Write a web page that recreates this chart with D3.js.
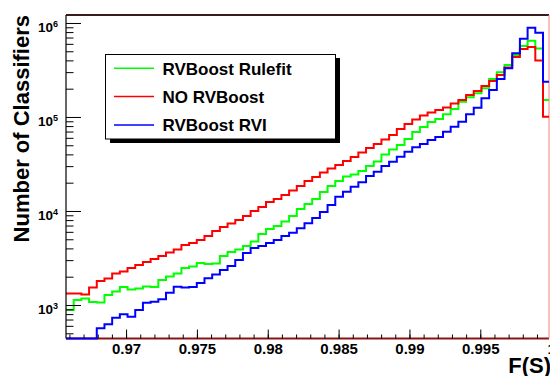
<!DOCTYPE html>
<html>
<head>
<meta charset="utf-8">
<script src="https://cdn.jsdelivr.net/npm/d3@7"></script>
<style>
  body { margin: 0; background: #fff; }
  text { font-family: "Liberation Sans", Arial, Helvetica, sans-serif; font-weight: bold; fill: #000; }
</style>
</head>
<body>
<svg id="hist" width="550" height="376"></svg>
<script>
// histogram binning (F(S) axis)
var binLow = 0.96576,
    binWidth = 0.000543;

// bin contents, one value per bin
var rulefit = [885, 1130, 1172, 1076, 1063, 1278, 1392, 1554, 1462, 1498,
  1573, 1554, 1845, 2010, 2163, 2475, 2568, 2798, 2731, 2764,
  3321, 3663, 3894, 4243, 4738, 5692, 6436, 6924, 7734, 8848,
  10500, 11870, 13420, 15930, 18450, 20850, 23280, 24450, 26650, 30110,
  33620, 39910, 45110, 50370, 58340, 69250, 78280, 88480, 95210, 106800,
  121700, 145500, 162000, 178700, 202000, 253700, 298900, 357500, 456600, 569200,
  648100, 535500, 151700];

var noBoost = [1325, 1325, 1293, 1536, 1800, 1914, 2163, 2272, 2475, 2665,
  2867, 3086, 3321, 3618, 3894, 4348, 4566, 4914, 5420, 6126,
  6757, 7362, 8024, 8848, 10000, 11030, 12460, 13420, 14800, 16530,
  18450, 20850, 23000, 25680, 28320, 30860, 34030, 37540, 41920, 46800,
  51620, 57630, 64360, 74530, 84240, 94060, 103750, 111670, 118700, 126200,
  139200, 151700, 171400, 189100, 213700, 241500, 279800, 336200, 434700, 529000,
  555500, 399100, 100700];

var rvi = [0, 0, 0, 0, 565, 623, 733, 796, 751, 885,
  1058, 1084, 1150, 1352, 1566, 1536, 1554, 1714, 1923, 2111,
  2357, 2599, 3011, 3574, 4041, 4243, 4566, 4914, 5420, 5877,
  6546, 7398, 8425, 9759, 11580, 14200, 16050, 18130, 20200, 23570,
  26190, 30110, 33460, 37820, 42750, 47610, 51620, 56930, 61270, 69760,
  78850, 89130, 106800, 125600, 158100, 193800, 253700, 329700, 476100, 680800,
  891300, 788500, 237400];

var xTicks = [0.97, 0.975, 0.98, 0.985, 0.99, 0.995, 1.0];
var xTickLabels = ["0.97", "0.975", "0.98", "0.985", "0.99", "0.995", "1"];
var yTicks = [1e3, 1e4, 1e5, 1e6];
var yTickExps = ["3", "4", "5", "6"];

var SERIES = [
  {name: "RVBoost Rulefit", color: "#00ff00", values: rulefit},
  {name: "NO RVBoost", color: "#ff0000", values: noBoost},
  {name: "RVBoost RVI", color: "#0000ff", values: rvi}
];

var svg = d3.select("#hist"),
    frame = {left: 66, right: 549, top: 15, bottom: 338.5},
    yMin = 440, yMax = 1.216e6;

var x = d3.scaleLinear()
    .domain([0.96576, 0.99985])
    .range([frame.left, frame.right]);
var y = d3.scaleLog()
    .domain([yMin, yMax])
    .range([frame.bottom, frame.top])
    .clamp(true);

svg.append("rect").attr("width", 550).attr("height", 376).attr("fill", "#fff");

// frame (drawn first so empty bins along the bottom stay visible)
svg.append("line").attr("x1", frame.left).attr("x2", frame.right).attr("y1", frame.top).attr("y2", frame.top)
    .attr("stroke", "#3a1a1a").attr("stroke-width", 2);
svg.append("line").attr("x1", frame.left).attr("x2", frame.right).attr("y1", frame.bottom).attr("y2", frame.bottom)
    .attr("stroke", "#8a1414").attr("stroke-width", 2);
svg.append("line").attr("x1", frame.right).attr("x2", frame.right).attr("y1", frame.top).attr("y2", frame.bottom)
    .attr("stroke", "#f08080").attr("stroke-width", 1);

svg.append("clipPath").attr("id", "plotclip")
  .append("rect")
    .attr("x", frame.left)
    .attr("y", frame.top - 2)
    .attr("width", frame.right - frame.left)
    .attr("height", frame.bottom - frame.top + 4);

// histograms as step lines
var step = d3.line()
    .x(d => x(d[0]))
    .y(d => y(Math.max(d[1], yMin)))
    .curve(d3.curveStepAfter);

var plot = svg.append("g").attr("clip-path", "url(#plotclip)");

SERIES.forEach(function(s) {
  var pts = s.values.map((v, i) => [binLow + i * binWidth, v]);
  pts.push([binLow + s.values.length * binWidth, s.values[s.values.length - 1]]);
  plot.append("path")
      .datum(pts)
      .attr("d", step)
      .attr("fill", "none")
      .attr("stroke", s.color)
      .attr("stroke-width", 2);
});

svg.append("line").attr("x1", frame.left).attr("x2", frame.left).attr("y1", frame.top).attr("y2", frame.bottom)
    .attr("stroke", "#000").attr("stroke-width", 1.2);

// x axis: major + minor ticks pointing up into the frame
var xMinor = d3.range(966, 1000).map(d => d / 1000);

svg.append("g")
    .attr("transform", "translate(0," + frame.bottom + ")")
    .call(d3.axisBottom(x).tickValues(xMinor).tickSizeInner(-4).tickSizeOuter(0).tickFormat(""))
    .call(g => g.select(".domain").remove());

var xAxis = svg.append("g")
    .attr("transform", "translate(0," + frame.bottom + ")")
    .call(d3.axisBottom(x).tickValues(xTicks).tickSizeInner(-9).tickSizeOuter(0)
      .tickFormat((d, i) => xTickLabels[i]))
    .call(g => g.select(".domain").remove());

xAxis.selectAll("text")
    .attr("y", 15)
    .attr("dy", null)
    .style("font-size", "15px");

// y axis: log ticks pointing right
var yMinor = [];
[100, 1000, 10000, 100000].forEach(function(dec) {
  for (var k = 2; k <= 9; k++) {
    if (dec * k >= yMin && dec * k <= yMax) yMinor.push(dec * k);
  }
});

svg.append("g")
    .attr("transform", "translate(" + frame.left + ",0)")
    .call(d3.axisLeft(y).tickValues(yMinor).tickSizeInner(-7.5).tickSizeOuter(0).tickFormat(""))
    .call(g => g.select(".domain").remove());

var yAxis = svg.append("g")
    .attr("transform", "translate(" + frame.left + ",0)")
    .call(d3.axisLeft(y).tickValues(yTicks).tickSizeInner(-15).tickSizeOuter(0).tickFormat(""))
    .call(g => g.select(".domain").remove());

yAxis.selectAll(".tick").each(function(d, i) {
  var t = d3.select(this).append("text")
      .attr("x", -8)
      .attr("y", 8.4)
      .attr("text-anchor", "end")
      .style("font-size", "13.5px");
  t.append("tspan").text("10");
  t.append("tspan").attr("dy", -5).style("font-size", "9px").text(yTickExps[i]);
});

svg.selectAll(".tick line").attr("stroke", "#000").attr("stroke-width", 1);

// axis titles
svg.append("text")
    .attr("transform", "translate(29.3," + frame.top + ") rotate(-90)")
    .attr("text-anchor", "end")
    .style("font-size", "22px")
    .text("Number of Classifiers");

svg.append("text")
    .attr("x", 551)
    .attr("y", 372.7)
    .attr("text-anchor", "end")
    .style("font-size", "22px")
    .text("F(S)");

// legend with drop shadow
var legend = svg.append("g");
legend.append("rect")
    .attr("x", 110).attr("y", 58).attr("width", 230).attr("height", 85)
    .attr("fill", "#000");
legend.append("rect")
    .attr("x", 105.5).attr("y", 54.5).attr("width", 230).attr("height", 84.5)
    .attr("fill", "#fff").attr("stroke", "#000").attr("stroke-width", 1);

SERIES.forEach(function(s, i) {
  var ly = 68.3 + 28.3 * i;
  legend.append("line")
      .attr("x1", 114).attr("x2", 154)
      .attr("y1", ly).attr("y2", ly)
      .attr("stroke", s.color).attr("stroke-width", 1.5);
  legend.append("text")
      .attr("x", 162.5)
      .attr("y", ly + 6.2)
      .style("font-size", "17px")
      .text(s.name);
});
</script>
